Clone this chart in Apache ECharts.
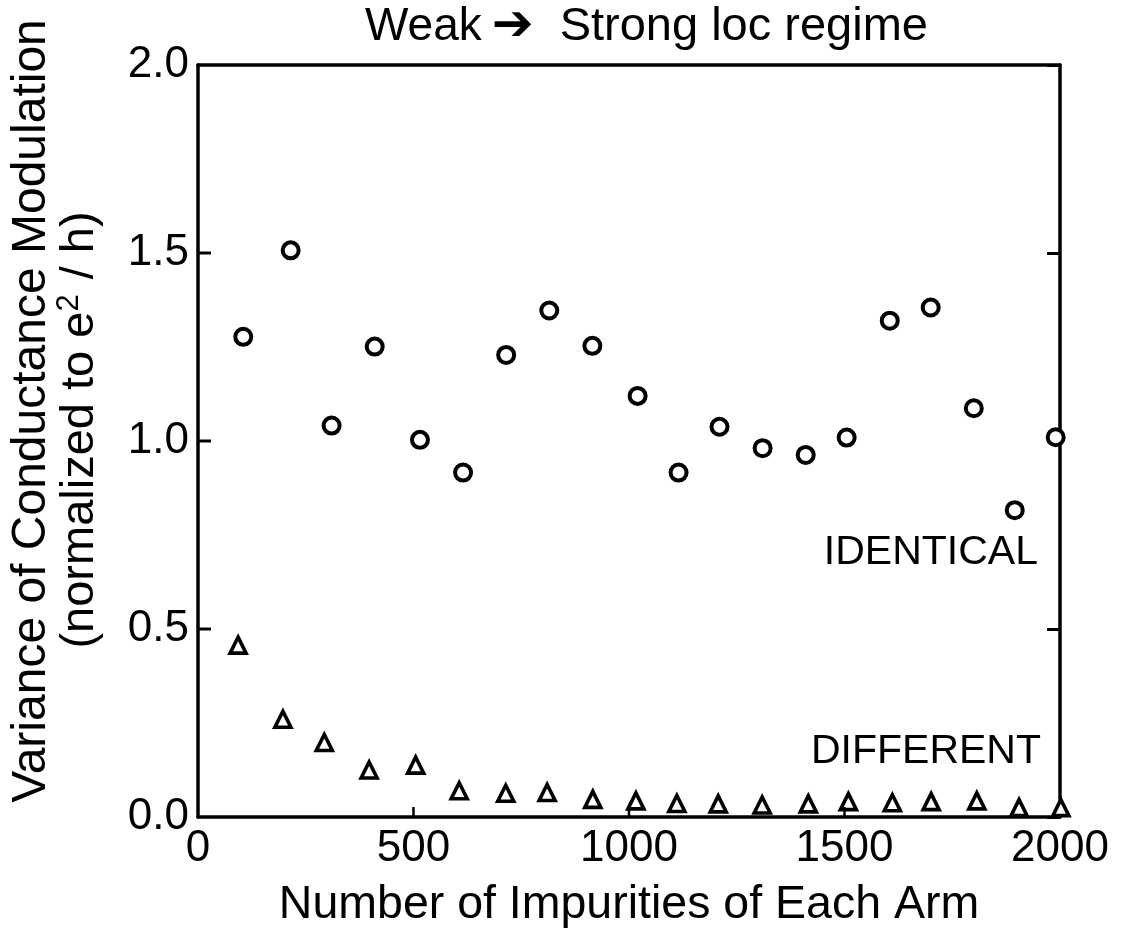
<!DOCTYPE html>
<html>
<head>
<meta charset="utf-8">
<script src="https://cdn.jsdelivr.net/npm/echarts@6/dist/echarts.min.js"></script>
<style>
html,body{margin:0;padding:0;background:#fff;}
#chart{width:1133px;height:934px;}
</style>
</head>
<body>
<div id="chart"></div>
<script>
// ---- data ----
const identicalX = [105, 215, 310, 410, 515, 615, 715, 815, 915, 1020, 1115, 1210, 1310, 1410, 1505, 1605, 1700, 1800, 1895, 1990];
const identicalY = [1.277, 1.507, 1.041, 1.251, 1.003, 0.916, 1.229, 1.347, 1.253, 1.120, 0.916, 1.038, 0.981, 0.963, 1.009, 1.320, 1.355, 1.087, 0.816, 1.010];
const differentX = [93, 197, 293, 397, 505, 606, 714, 810, 916, 1016, 1111, 1207, 1309, 1416, 1509, 1611, 1701, 1807, 1905, 2002];
const differentY = [0.457, 0.260, 0.198, 0.125, 0.138, 0.070, 0.063, 0.065, 0.047, 0.043, 0.036, 0.035, 0.032, 0.035, 0.041, 0.038, 0.041, 0.043, 0.025, 0.025];
const xTicks = [0, 500, 1000, 1500, 2000];
const yTicks = [0.0, 0.5, 1.0, 1.5, 2.0];
const titleText = 'Weak';
const titleText2 = 'Strong loc regime';
const xName = 'Number of Impurities of Each Arm';
const yName1 = 'Variance of Conductance Modulation';
const yName2a = '(normalized to e';
const yName2b = '2';
const yName2c = ' / h)';
const labelIdentical = 'IDENTICAL';
const labelDifferent = 'DIFFERENT';

const FONT = '"Liberation Sans", Arial, Helvetica, sans-serif';
const ink = '#000';

const chart = echarts.init(document.getElementById('chart'), null, {renderer: 'canvas'});

const xMin = xTicks[0], xMax = xTicks[xTicks.length - 1];
const yMin = yTicks[0], yMax = yTicks[yTicks.length - 1];
const gridRect = {left: 198, right: 73, top: 65, bottom: 117, containLabel: false};

const option = {
  backgroundColor: '#fff',
  animation: false,
  grid: gridRect,
  xAxis: [
    {
      type: 'value', min: xMin, max: xMax, interval: 500, position: 'bottom',
      name: xName, nameLocation: 'middle', nameGap: 65,
      nameTextStyle: {fontFamily: FONT, fontSize: 46.5, color: ink},
      axisLine: {show: true, onZero: false, lineStyle: {color: ink, width: 3.5}},
      axisTick: {show: false},
      axisLabel: {show: true, margin: 10, fontFamily: FONT, fontSize: 44, color: ink,
        formatter: v => xTicks.includes(v) ? String(v) : ''},
      splitLine: {show: false}
    },
    {
      type: 'value', min: xMin, max: xMax, interval: 500, position: 'top',
      axisLine: {show: true, onZero: false, lineStyle: {color: ink, width: 3.5}},
      axisTick: {show: false}, axisLabel: {show: false}, splitLine: {show: false}
    }
  ],
  yAxis: [
    {
      type: 'value', min: yMin, max: yMax, interval: 0.5, position: 'left',
      axisLine: {show: true, onZero: false, lineStyle: {color: ink, width: 3.5}},
      axisTick: {show: false},
      axisLabel: {show: true, margin: 9, fontFamily: FONT, fontSize: 44, color: ink,
        formatter: v => v.toFixed(1)},
      splitLine: {show: false}
    },
    {
      type: 'value', min: yMin, max: yMax, interval: 0.5, position: 'right',
      axisLine: {show: true, onZero: false, lineStyle: {color: ink, width: 3.5}},
      axisTick: {show: true, inside: true, length: 13, lineStyle: {color: ink, width: 3}},
      axisLabel: {show: false}, splitLine: {show: false}
    }
  ],
  series: [
    {
      name: 'IDENTICAL', type: 'scatter', xAxisIndex: 0, yAxisIndex: 0,
      symbol: 'circle', symbolSize: 16, clip: false,
      itemStyle: {color: '#fff', opacity: 1, borderColor: ink, borderWidth: 4},
      data: identicalX.map((x, i) => [x, identicalY[i]]),
      z: 5
    },
    {
      name: 'DIFFERENT', type: 'scatter', xAxisIndex: 0, yAxisIndex: 0,
      symbol: 'triangle', symbolSize: [16, 16], clip: false,
      itemStyle: {color: '#fff', opacity: 1, borderColor: ink, borderWidth: 3.6},
      data: differentX.map((x, i) => [x, differentY[i]]),
      z: 5
    }
  ],
  graphic: [
    {
      id: 'title', type: 'text', left: 365, top: 2,
      style: {
        text: '{a|' + titleText + '}{arr|➔}{b|' + titleText2 + '}',
        rich: {
          a: {fontFamily: FONT, fontSize: 46, fill: ink},
          b: {fontFamily: FONT, fontSize: 47, fill: ink},
          arr: {fontFamily: '"DejaVu Sans", sans-serif', fontSize: 50, fill: ink, padding: [0, 26, 0, 10]}
        }
      }
    },
    {
      id: 'yname1', type: 'text', x: 32, y: 411, rotation: Math.PI / 2,
      style: {text: yName1, fontFamily: FONT, fontSize: 48, fill: ink, align: 'center', verticalAlign: 'middle'}
    },
    {
      id: 'yname2', type: 'text', x: 80, y: 430, rotation: Math.PI / 2,
      style: {
        text: '{n|' + yName2a + '}{sup|' + yName2b + '}{n|' + yName2c + '}',
        align: 'center', verticalAlign: 'middle',
        rich: {
          n: {fontFamily: FONT, fontSize: 47, fill: ink},
          sup: {fontFamily: FONT, fontSize: 31, fill: ink, verticalAlign: 'top', padding: [0, 2, 22, 0]}
        }
      }
    },
    {
      id: 'lblIdent', type: 'text', right: 95, top: 532,
      style: {text: labelIdentical, fontFamily: FONT, fontSize: 41, fill: ink}
    },
    {
      id: 'lblDiff', type: 'text', right: 92, top: 731,
      style: {text: labelDifferent, fontFamily: FONT, fontSize: 41, fill: ink}
    }
  ]
};

chart.setOption(option);

// inner tick marks on the left and bottom frame edges, placed through the axes' own scales
const tickGraphics = [];
yTicks.filter(v => v > yMin && v < yMax).forEach((v, i) => {
  const p = chart.convertToPixel({xAxisIndex: 0, yAxisIndex: 0}, [xMin, v]);
  tickGraphics.push({
    id: 'ltick' + i, type: 'line', z: 100,
    shape: {x1: p[0], y1: p[1], x2: p[0] + 13, y2: p[1]},
    style: {stroke: ink, lineWidth: 3}
  });
});
xTicks.filter(v => v > xMin && v < xMax).forEach((v, i) => {
  const p = chart.convertToPixel({xAxisIndex: 0, yAxisIndex: 0}, [v, yMin]);
  tickGraphics.push({
    id: 'btick' + i, type: 'line', z: 100,
    shape: {x1: p[0], y1: p[1], x2: p[0], y2: p[1] - 10},
    style: {stroke: ink, lineWidth: 2.5}
  });
});
chart.setOption({graphic: tickGraphics});
</script>
</body>
</html>
